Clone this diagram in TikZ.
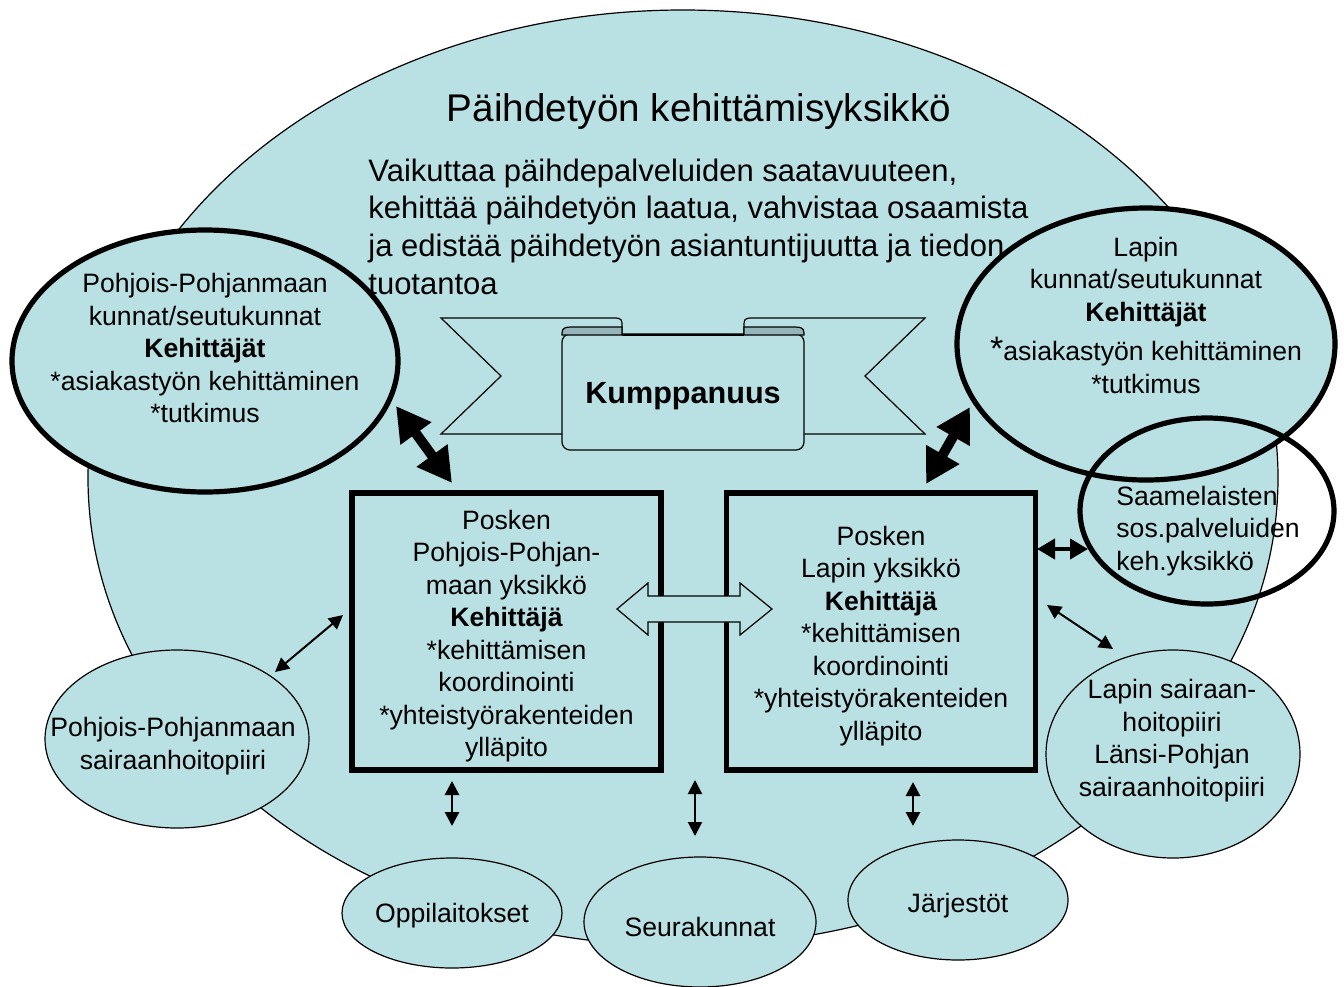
\documentclass[tikz,border=0pt]{standalone}
\usepackage{fontspec}
\setmainfont{Liberation Sans}
\usetikzlibrary{arrows.meta,shapes.geometric}
\definecolor{bg}{RGB}{185,224,227}
\definecolor{foldc}{RGB}{150,181,186}
\begin{document}
\begin{tikzpicture}[x=0.5pt,y=-0.5pt,
  oval/.style={ellipse, draw, fill=bg, inner sep=0pt, line width=0.6pt},
  thickoval/.style={ellipse, draw, line width=2.6pt, inner sep=0pt},
  body/.style={font=\fontsize{13.3}{16.25}\selectfont, align=center, inner sep=0pt},
  desc/.style={font=\fontsize{15.5}{18.75}\selectfont, anchor=base west, inner sep=0pt},
  unitbox/.style={draw, line width=2.6pt, fill=bg, minimum width=154.5pt, minimum height=138.5pt, inner sep=0pt},
  bigarrow/.style={line width=5pt, {Triangle[width=18pt,length=17pt]}-{Triangle[width=18pt,length=17pt]}},
  midarrow/.style={line width=2pt, {Triangle[width=10pt,length=9pt]}-{Triangle[width=10pt,length=9pt]}},
  thinarrow/.style={line width=1pt, {Triangle[width=7pt,length=7pt]}-{Triangle[width=7pt,length=7pt]}},
  vertarrow/.style={line width=1.4pt, {Triangle[width=7pt,length=7pt]}-{Triangle[width=7pt,length=7pt]}}
]
\useasboundingbox (0,0) rectangle (1344,986);

% main ellipse
\node[oval, minimum width=595pt, minimum height=468pt] (main) at (683,478) {};

% partner ellipses with thick border
\node[thickoval, fill=bg, minimum width=193pt, minimum height=131pt] (ppk) at (205,361) {};
\node[thickoval, fill=bg, minimum width=189pt, minimum height=136pt] (lk) at (1146,344) {};
\node[thickoval, minimum width=127pt, minimum height=93pt] (saame) at (1207,511) {};

% banner tails
\draw[fill=bg, line width=0.6pt] (441,318) -- (614,318) .. controls (622,318) and (622,320) .. (622,326) -- (622,434) -- (441,434) -- (501,376) -- cycle;
\draw[fill=bg, line width=0.6pt] (925,318) -- (752,318) .. controls (744,318) and (744,320) .. (744,326) -- (744,434) -- (925,434) -- (865,376) -- cycle;
% banner panel
\draw[fill=bg, line width=0.6pt, rounded corners=4pt] (562,334) -- (562,450) -- (804,450) -- (804,334) -- cycle;
% folds
\draw[fill=foldc, line width=0.6pt] (562,335) -- (562,333) .. controls (562,327) and (566,327) .. (576,327) -- (622,327) -- (622,335) -- cycle;
\draw[fill=foldc, line width=0.6pt] (804,335) -- (804,333) .. controls (804,327) and (800,327) .. (790,327) -- (744,327) -- (744,335) -- cycle;
\draw[line width=0.6pt] (622,335) -- (744,335);
\node[font=\bfseries\fontsize{15.3}{18}\selectfont, inner sep=0pt] (kump) at (683,396) {Kumppanuus};

% unit boxes
\node[unitbox] (lbox) at (506.5,631.5) {};
\node[unitbox] (rbox) at (881,631.5) {};
\node[body] (lboxt) at (506.5,636) {Posken\\Pohjois-Pohjan-\\maan yksikkö\\\textbf{Kehittäjä}\\*kehittämisen\\koordinointi\\*yhteistyörakenteiden\\ylläpito};
\node[body] (rboxt) at (881,636) {Posken\\Lapin yksikkö\\\textbf{Kehittäjä}\\*kehittämisen\\koordinointi\\*yhteistyörakenteiden\\ylläpito};

% small ellipses
\node[oval, minimum width=132pt, minimum height=89pt] (ppsh) at (177,739) {};
\node[oval, minimum width=127pt, minimum height=104pt] (lsh) at (1173,754) {};
\node[oval, minimum width=110pt, minimum height=55pt] (oppi) at (452,913) {};
\node[oval, minimum width=116pt, minimum height=65pt] (seura) at (700,922) {};
\node[oval, minimum width=110pt, minimum height=60pt] (jarj) at (958,900) {};

% block double arrow between boxes
\draw[fill=bg, line width=0.6pt] (617,609) -- (648,583) -- (648,596) -- (740,596) -- (740,583) -- (772,609) -- (740,635) -- (740,622) -- (648,622) -- (648,635) -- cycle;

% arrow end points
\coordinate (a1s) at (396,406); \coordinate (a1e) at (452,483);
\coordinate (a2s) at (970,407); \coordinate (a2e) at (926,484);
\coordinate (a3s) at (1037,549); \coordinate (a3e) at (1088,549);
\coordinate (a4s) at (1047,605); \coordinate (a4e) at (1113,649);
\coordinate (a5s) at (343,615); \coordinate (a5e) at (275,672);
\coordinate (v1s) at (452,781); \coordinate (v1e) at (452,826);
\coordinate (v2s) at (695,780); \coordinate (v2e) at (695,836);
\coordinate (v3s) at (913,782); \coordinate (v3e) at (913,826);

\draw[bigarrow] (a1s) -- (a1e);
\draw[bigarrow] (a2s) -- (a2e);
\draw[midarrow] (a3s) -- (a3e);
\draw[thinarrow] (a4s) -- (a4e);
\draw[thinarrow] (a5s) -- (a5e);
\draw[vertarrow] (v1s) -- (v1e);
\draw[thinarrow] (v2s) -- (v2e);
\draw[vertarrow] (v3s) -- (v3e);

% texts
\node[font=\fontsize{19.3}{23}\selectfont, inner sep=0pt] (title) at (699,112) {Päihdetyön kehittämisyksikkö};
\node[desc] (d1) at (368,181) {Vaikuttaa päihdepalveluiden saatavuuteen,};
\node[desc] (d2) at (368,218.7) {kehittää päihdetyön laatua, vahvistaa osaamista};
\node[desc] (d3) at (368,256.3) {ja edistää päihdetyön asiantuntijuutta ja tiedon};
\node[desc] (d4) at (368,294) {tuotantoa};

\node[body] (ppkt) at (205,348) {Pohjois-Pohjanmaan\\kunnat/seutukunnat\\\textbf{Kehittäjät}\\*asiakastyön kehittäminen\\*tutkimus};
\node[body] (lkt) at (1146,315) {Lapin\\kunnat/seutukunnat\\\textbf{Kehittäjät}\\[3.5pt]{\fontsize{17}{17}\selectfont*}asiakastyön kehittäminen\\*tutkimus};
\node[body, align=left] (saamet) at (1116,531) [anchor=west] {Saamelaisten\\sos.palveluiden\\keh.yksikkö};
\node[body] (ppsht) at (173,746) {Pohjois-Pohjanmaan\\sairaanhoitopiiri};
\node[body] (lsht) at (1172,740.5) {Lapin sairaan-\\hoitopiiri\\Länsi-Pohjan\\sairaanhoitopiiri};
\node[body] (oppit) at (452,916) {Oppilaitokset};
\node[body] (seurat) at (700,927) {Seurakunnat};
\node[body] (jarjt) at (958,906) {Järjestöt};
\end{tikzpicture}
\end{document}
